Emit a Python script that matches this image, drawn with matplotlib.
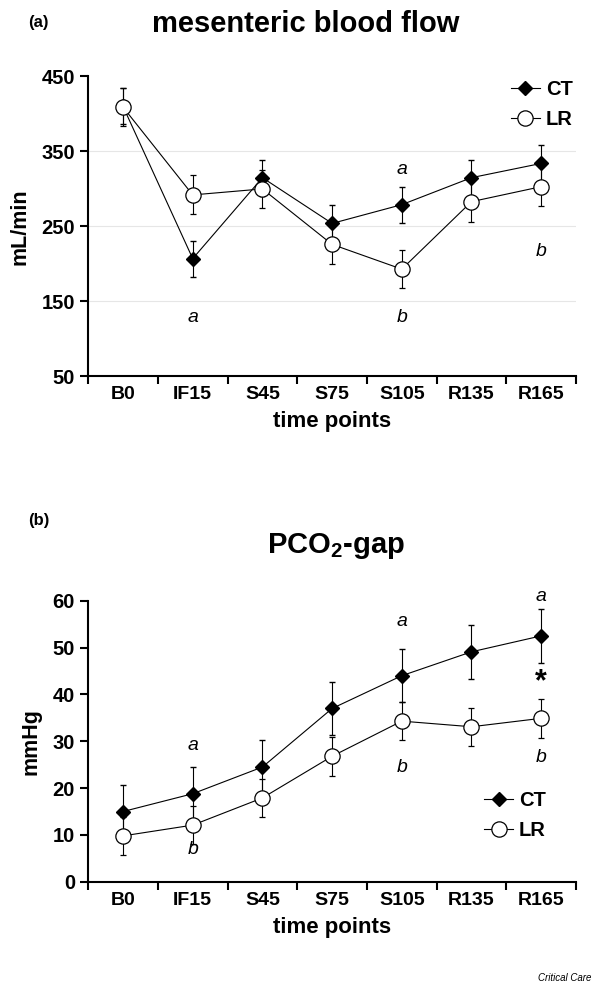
import matplotlib
matplotlib.use("Agg")
import matplotlib.pyplot as plt
from matplotlib.lines import Line2D
import numpy as np

plt.rcParams['font.family'] = ['Liberation Sans', 'DejaVu Sans']
plt.rcParams['mathtext.fontset'] = 'custom'
plt.rcParams['mathtext.bf'] = 'Liberation Sans:bold'
plt.rcParams['mathtext.rm'] = 'Liberation Sans'

time_points = ['B0', 'IF15', 'S45', 'S75', 'S105', 'R135', 'R165']

# (a) mesenteric blood flow, mL/min
flow_ct = [410, 207, 315, 254, 279, 315, 334]
flow_ct_err = [24, 24, 24, 24, 24, 24, 24]
flow_lr = [409, 292, 300, 226, 193, 283, 303]
flow_lr_err = [25, 26, 25, 26, 25, 27, 26]

# (b) PCO2-gap, mmHg
gap_ct = [15.0, 18.8, 24.5, 37.0, 44.0, 49.1, 52.5]
gap_ct_err = [5.7, 5.7, 5.8, 5.7, 5.7, 5.7, 5.7]
gap_lr = [9.8, 12.1, 17.9, 26.8, 34.3, 33.1, 34.9]
gap_lr_err = [4.1, 4.1, 4.0, 4.2, 4.1, 4.1, 4.1]

# significance letters: (index, y, text)
flow_marks = [(1, 129, 'a'), (4, 326, 'a'), (4, 129, 'b'), (6, 216, 'b')]
gap_marks = [(1, 29.1, 'a'), (1, 6.8, 'b'), (4, 55.6, 'a'), (4, 24.5, 'b'),
             (6, 61.0, 'a'), (6, 26.5, 'b')]

x = np.arange(len(time_points))

fig = plt.figure(figsize=(6, 9.93), dpi=100)
ax1 = fig.add_axes([0.147, 0.621, 0.813, 0.302])
ax2 = fig.add_axes([0.147, 0.112, 0.813, 0.283])

leg_handles = [
    Line2D([], [], color='black', lw=0.8, marker='D', markersize=7,
           mfc='black', mec='black'),
    Line2D([], [], color='black', lw=0.8, marker='o', markersize=11,
           mfc='white', mec='black', mew=0.9),
]
leg_labels = ['CT', 'LR']


def draw(ax, ct, ct_err, lr, lr_err):
    ax.errorbar(x, ct, yerr=ct_err, color='black', lw=0.8, elinewidth=0.8,
                capsize=2.5, marker='D', markersize=7, mfc='black', mec='black',
                zorder=3)
    ax.errorbar(x, lr, yerr=lr_err, color='black', lw=0.8, elinewidth=0.8,
                capsize=2.5, marker='o', markersize=11, mfc='white', mec='black',
                mew=0.9, zorder=4)
    ax.set_xlim(-0.5, len(time_points) - 0.5)
    ax.set_xticks(x)
    ax.set_xticklabels(time_points, fontsize=14, fontweight='bold')
    ax.set_xticks(np.arange(-0.5, len(time_points)), minor=True)
    ax.tick_params(axis='x', which='major', length=0, pad=7)
    ax.tick_params(axis='x', which='minor', length=6, width=1.5, direction='out')
    ax.tick_params(axis='y', length=6, width=1.5)
    for s in ['top', 'right']:
        ax.spines[s].set_visible(False)
    for s in ['left', 'bottom']:
        ax.spines[s].set_linewidth(1.5)
    ax.set_xlabel('time points', fontsize=16, fontweight='bold', labelpad=6)


def style_y(ax):
    for lab in ax.get_yticklabels():
        lab.set_fontweight('bold')
        lab.set_fontsize(14.5)


draw(ax1, flow_ct, flow_ct_err, flow_lr, flow_lr_err)
ax1.set_ylim(50, 450)
ax1.set_yticks([50, 150, 250, 350, 450])
style_y(ax1)
for yv in [150, 250, 350]:
    ax1.axhline(yv, color='#e6e6e6', lw=0.8, zorder=0)
ax1.set_ylabel('mL/min', fontsize=15.5, fontweight='bold', labelpad=8)
ax1.legend(leg_handles, leg_labels, loc='upper right', bbox_to_anchor=(1.03, 1.05),
           frameon=False, prop={'weight': 'bold', 'size': 14.5},
           handlelength=1.4, handletextpad=0.3, labelspacing=0.55)
for i, yv, t in flow_marks:
    ax1.text(x[i], yv, t, fontsize=14, fontstyle='italic', ha='center', va='center')

draw(ax2, gap_ct, gap_ct_err, gap_lr, gap_lr_err)
ax2.set_ylim(0, 60)
ax2.set_yticks(np.arange(0, 61, 10))
style_y(ax2)
ax2.set_ylabel('mmHg', fontsize=15.5, fontweight='bold', labelpad=8)
ax2.legend(leg_handles, leg_labels, loc='center', bbox_to_anchor=(0.875, 0.235),
           frameon=False, prop={'weight': 'bold', 'size': 14.5},
           handlelength=1.4, handletextpad=0.3, labelspacing=0.55)
for i, yv, t in gap_marks:
    ax2.text(x[i], yv, t, fontsize=14, fontstyle='italic', ha='center', va='center')
ax2.text(x[6], 42.5, '*', fontsize=22, fontweight='bold', ha='center', va='center')

fig.text(0.047, 0.977, '(a)', fontsize=12, fontweight='bold', va='center')
fig.text(0.51, 0.976, 'mesenteric blood flow', fontsize=21, fontweight='bold',
         ha='center', va='center')
fig.text(0.047, 0.476, '(b)', fontsize=12, fontweight='bold', va='center')
fig.text(0.56, 0.450, 'PCO$_\\mathbf{2}$-gap', fontsize=21, fontweight='bold',
         ha='center', va='center')
fig.text(0.985, 0.012, 'Critical Care', fontsize=7, fontstyle='italic', ha='right')

fig.savefig('out.png', dpi=100)
